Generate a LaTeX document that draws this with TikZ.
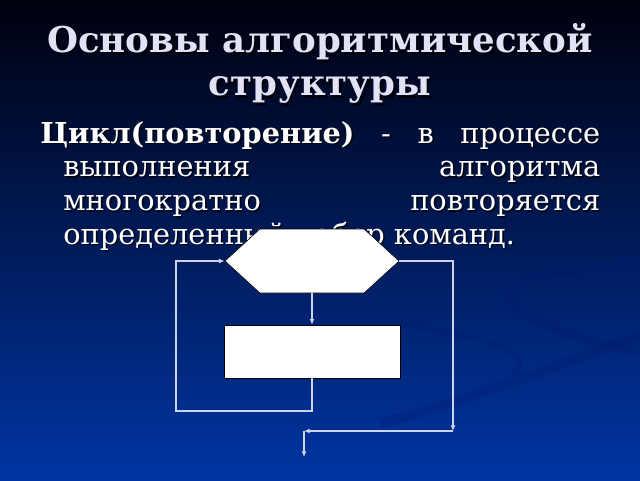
\documentclass[tikz,border=0pt]{standalone}
\usepackage{fontspec}
\setmainfont{DejaVu Serif}
\usetikzlibrary{arrows.meta,shapes.symbols}
\definecolor{bg-top}{HTML}{00000E}
\definecolor{bg-mid}{HTML}{06268A}
\definecolor{bg-bot}{HTML}{0035A3}
\definecolor{swirl-blue}{HTML}{001A6E}
\definecolor{title-lilac}{HTML}{E2E2F6}
\definecolor{flow-grey}{HTML}{CCD4E8}
\tikzset{
    title-text/.style = {text=title-lilac, font=\bfseries\fontsize{25.3}{31}\selectfont, align=center, inner sep=0pt},
    body-text/.style = {text=white, font=\fontsize{20.5}{24}\selectfont, text width=14cm, align=justify, inner sep=0pt},
    text-shadow/.style = {text=black, opacity=0.75},
    swirl/.style = {draw=swirl-blue, line width=7pt, opacity=0.3},
    hex-box/.style = {signal, signal to=west and east, signal pointer angle=85, draw=black, fill=white, thin, minimum width=4.35cm, minimum height=1.6cm, inner sep=0pt},
    body-box/.style = {draw=black, fill=white, thin, rectangle, minimum width=4.4cm, minimum height=1.325cm},
    flow-line/.style = {draw=flow-grey, line width=0.9pt, -{Latex[length=4pt,width=3.5pt]}},
}

\begin{document}
\begin{tikzpicture}
\useasboundingbox (0,0) rectangle (16,12);
\shade[top color=bg-top, middle color=bg-mid, bottom color=bg-bot] (0,0) rectangle (16,12);
% swirls
\draw[swirl] (16,5.45) .. controls (13.5,5.3) and (11.8,4.8) .. (13.2,4.1) .. controls (14.2,3.6) and (15,3.4) .. (16,3.2);
\draw[swirl, line width=4pt] (10,3.9) .. controls (12,3.6) and (13.5,3.2) .. (12.8,2.6);
\draw[swirl] (9.5,1.4) .. controls (12,2.1) and (14,2.9) .. (16,3.6);

% title
\node[title-text, text-shadow, anchor=base] (title-sh) at (8.06,9.54) {Основы алгоритмической\\структуры};
\node[title-text, anchor=base] (title) at (8,9.6) {Основы алгоритмической\\структуры};

% definition
\node[body-text, text-shadow, anchor=base west] (def-sh) at (1.04,8.385) {\hangindent=0.575cm\hangafter=1 \textbf{Цикл(повторение)} - в процессе \linebreak выполнения алгоритма \linebreak многократно повторяется \linebreak определенный набор команд.\par};
\node[body-text, anchor=base west] (def) at (1.0,8.425) {\hangindent=0.575cm\hangafter=1 \textbf{Цикл(повторение)} - в процессе \linebreak выполнения алгоритма \linebreak многократно повторяется \linebreak определенный набор команд.\par};

% loop
\node[hex-box] (cond) at (7.8,5.475) {};
\node[body-box] (act) at (7.8,3.2125) {};
\coordinate (loop-a) at (7.8,1.725);
\coordinate (loop-b) at (4.4,1.725);
\coordinate (loop-c) at (4.4,5.475);
\coordinate (out-a) at (11.325,5.475);
\coordinate (out-b) at (11.325,1.225);
\coordinate (out-c) at (7.6,1.225);
\coordinate (exit) at (7.6,0.575);

\draw[flow-line] (cond.south) -- (act.north);
\draw[flow-line] (act.south) -- (loop-a) -- (loop-b) -- (loop-c) -- (cond.west);
\draw[flow-line] (cond.east) -- (out-a) -- (out-b);
\draw[flow-line] (out-b) -- (out-c);
\draw[flow-line] (out-c) -- (exit);
\end{tikzpicture}
\end{document}
